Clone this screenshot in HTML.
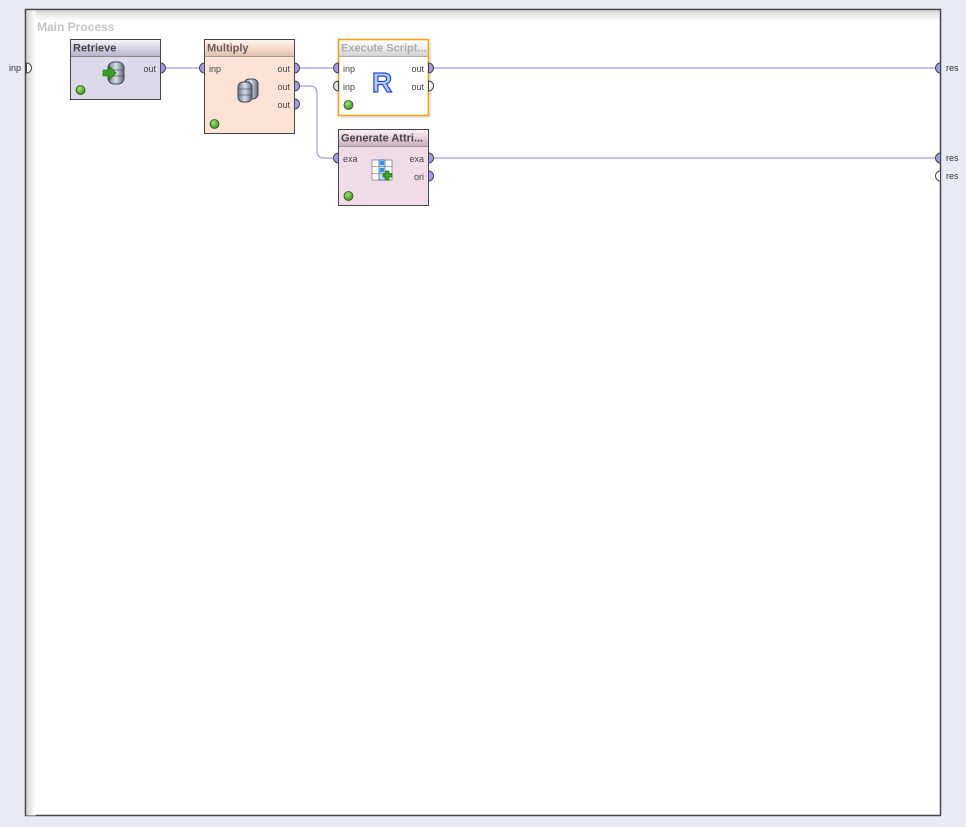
<!DOCTYPE html>
<html><head><meta charset="utf-8"><style>
html,body{margin:0;padding:0;background:#e8ebf3;}
svg{display:block;font-family:"Liberation Sans","DejaVu Sans",sans-serif;}
</style></head><body>
<svg width="966" height="827" viewBox="0 0 966 827" xmlns="http://www.w3.org/2000/svg">
<defs>
<linearGradient id="lsh" x1="0" x2="1" y1="0" y2="0"><stop offset="0" stop-color="#d4d4d4"/><stop offset="1" stop-color="#ffffff"/></linearGradient>
<linearGradient id="tsh" x1="0" x2="0" y1="0" y2="1"><stop offset="0" stop-color="#d8d8d8"/><stop offset="1" stop-color="#ffffff"/></linearGradient>
<linearGradient id="hRet" x1="0" x2="0" y1="0" y2="1"><stop offset="0" stop-color="#f4f4fa"/><stop offset="0.6" stop-color="#d0cde0"/><stop offset="1" stop-color="#b8b4cc"/></linearGradient>
<linearGradient id="hMul" x1="0" x2="0" y1="0" y2="1"><stop offset="0" stop-color="#fff4ee"/><stop offset="0.6" stop-color="#f4d8c8"/><stop offset="1" stop-color="#dcc0b0"/></linearGradient>
<linearGradient id="hExe" x1="0" x2="0" y1="0" y2="1"><stop offset="0" stop-color="#ffffff"/><stop offset="0.6" stop-color="#e8e8e8"/><stop offset="1" stop-color="#d0d0d0"/></linearGradient>
<linearGradient id="hGen" x1="0" x2="0" y1="0" y2="1"><stop offset="0" stop-color="#faf0f6"/><stop offset="0.6" stop-color="#e2cad8"/><stop offset="1" stop-color="#cab0c0"/></linearGradient>
<radialGradient id="led" cx="0.4" cy="0.35" r="0.7"><stop offset="0" stop-color="#a8e070"/><stop offset="1" stop-color="#3a8a20"/></radialGradient>
<linearGradient id="db" x1="0" x2="1"><stop offset="0" stop-color="#6a7888"/><stop offset="0.5" stop-color="#d8e0e8"/><stop offset="1" stop-color="#5a6878"/></linearGradient>
</defs>

<rect x="25.5" y="9.5" width="915" height="806" fill="#fff" stroke="#444" stroke-width="1.5"/>
<rect x="26.5" y="10.5" width="913" height="10" fill="url(#tsh)"/>
<rect x="26.5" y="10.5" width="9" height="805" fill="url(#lsh)"/>
<text x="37" y="31" font-size="12" font-weight="bold" fill="#c4c4c4">Main Process</text>

<g fill="none" stroke="#a49ce8" stroke-width="1.2">
<line x1="165" y1="68" x2="199" y2="68"/>
<line x1="299" y1="68" x2="333" y2="68"/>
<path d="M299 86 H310 Q317 86 317 93 V151 Q317 158 324 158 H333"/>
<line x1="433" y1="68" x2="936" y2="68"/>
<line x1="433" y1="158" x2="936" y2="158"/>
</g>

<rect x="70.5" y="39.5" width="90" height="60" fill="#dcd9e8" stroke="#444"/>
<rect x="71" y="40" width="89" height="16" fill="url(#hRet)"/>
<line x1="71" y1="56.5" x2="160" y2="56.5" stroke="#888"/>
<text x="73" y="51.5" font-size="11" font-weight="bold" fill="#444">Retrieve</text>
<text x="156" y="72" font-size="9" fill="#444" text-anchor="end">out</text>
<g><rect x="108" y="62" width="16" height="22" rx="6" fill="url(#db)" stroke="#445"/>
<path d="M108 70 h16 M108 76 h16" stroke="#556" stroke-width="0.8"/>
<path d="M103 70 h6 v-4 l7 7 l-7 7 v-4 h-6z" fill="#3aa020" stroke="#1a6010" stroke-width="0.6"/></g>
<circle cx="80.5" cy="90" r="4.5" fill="url(#led)" stroke="#2a5a18" stroke-width="0.8"/>

<rect x="204.5" y="39.5" width="90" height="94" fill="#fde2d6" stroke="#444"/>
<rect x="205" y="40" width="89" height="16" fill="url(#hMul)"/>
<line x1="205" y1="56.5" x2="294" y2="56.5" stroke="#998"/>
<text x="207" y="51.5" font-size="11" font-weight="bold" fill="#6a5a55">Multiply</text>
<text x="209" y="72" font-size="9" fill="#444">inp</text>
<text x="290" y="72" font-size="9" fill="#444" text-anchor="end">out</text>
<text x="290" y="90" font-size="9" fill="#444" text-anchor="end">out</text>
<text x="290" y="108" font-size="9" fill="#444" text-anchor="end">out</text>
<rect x="244" y="79" width="14" height="20" rx="5" fill="url(#db)" stroke="#445"/>
<rect x="238" y="82" width="14" height="20" rx="5" fill="url(#db)" stroke="#445"/>
<path d="M238 89 h14 M238 95 h14" stroke="#556" stroke-width="0.8"/>
<circle cx="214.5" cy="124" r="4.5" fill="url(#led)" stroke="#2a5a18" stroke-width="0.8"/>

<rect x="341" y="42" width="90" height="76" fill="#ddd" opacity="0.6"/>
<rect x="338.5" y="39.5" width="90" height="76" fill="#fff" stroke="#f5a020" stroke-width="1.6"/>
<rect x="339.5" y="40.5" width="88" height="15.5" fill="url(#hExe)"/>
<line x1="339" y1="56.5" x2="428" y2="56.5" stroke="#aaa"/>
<text x="341" y="51.5" font-size="11" font-weight="bold" fill="#aaa">Execute Script...</text>
<text x="343" y="72" font-size="9" fill="#444">inp</text>
<text x="343" y="90" font-size="9" fill="#444">inp</text>
<text x="424" y="72" font-size="9" fill="#444" text-anchor="end">out</text>
<text x="424" y="90" font-size="9" fill="#444" text-anchor="end">out</text>
<text x="372" y="92" font-size="28" font-weight="bold" fill="#b8c8f8" stroke="#2050d0" stroke-width="1.2">R</text>
<circle cx="348.5" cy="105" r="4.5" fill="url(#led)" stroke="#2a5a18" stroke-width="0.8"/>

<rect x="338.5" y="129.5" width="90" height="76" fill="#f0dce8" stroke="#444"/>
<rect x="339" y="130" width="89" height="16" fill="url(#hGen)"/>
<line x1="339" y1="146.5" x2="428" y2="146.5" stroke="#998"/>
<text x="341" y="141.5" font-size="11" font-weight="bold" fill="#444">Generate Attri...</text>
<text x="343" y="162" font-size="9" fill="#444">exa</text>
<text x="424" y="162" font-size="9" fill="#444" text-anchor="end">exa</text>
<text x="424" y="180" font-size="9" fill="#444" text-anchor="end">ori</text>
<g stroke="#777" stroke-width="0.7">
<rect x="372" y="160" width="20" height="20" fill="#fff"/>
<rect x="379" y="160" width="6" height="20" fill="#bfe0f8" stroke="#2060a0"/>
<rect x="380" y="161" width="4" height="4" fill="#3a90e0" stroke="none"/>
<rect x="380" y="168" width="4" height="4" fill="#3a90e0" stroke="none"/>
<line x1="372" y1="166.7" x2="392" y2="166.7"/><line x1="372" y1="173.3" x2="392" y2="173.3"/>
</g>
<path d="M386 171 h3 v3 h3 v3 h-3 v3 h-3 v-3 h-3 v-3 h3z" fill="#3ab020" stroke="#1a6010" stroke-width="0.7"/>
<circle cx="348.5" cy="196" r="4.5" fill="url(#led)" stroke="#2a5a18" stroke-width="0.8"/>

<g stroke="#444" stroke-width="1">
<path d="M160.5 63 a5 5 0 0 1 0 10z" fill="#a49ce8"/>
<path d="M204.5 63 a5 5 0 0 0 0 10z" fill="#a49ce8"/>
<path d="M294.5 63 a5 5 0 0 1 0 10z" fill="#a49ce8"/>
<path d="M294.5 81 a5 5 0 0 1 0 10z" fill="#a49ce8"/>
<path d="M294.5 99 a5 5 0 0 1 0 10z" fill="#a49ce8"/>
<path d="M338.5 63 a5 5 0 0 0 0 10z" fill="#a49ce8"/>
<path d="M338.5 81 a5 5 0 0 0 0 10z" fill="#e0e0e0"/>
<path d="M428.5 63 a5 5 0 0 1 0 10z" fill="#a49ce8"/>
<path d="M428.5 81 a5 5 0 0 1 0 10z" fill="#fff"/>
<path d="M338.5 153 a5 5 0 0 0 0 10z" fill="#a49ce8"/>
<path d="M428.5 153 a5 5 0 0 1 0 10z" fill="#a49ce8"/>
<path d="M428.5 171 a5 5 0 0 1 0 10z" fill="#a49ce8"/>
<path d="M26.5 63 a5 5 0 0 1 0 10z" fill="#fff"/>
<path d="M940.5 63 a5 5 0 0 0 0 10z" fill="#a49ce8"/>
<path d="M940.5 153 a5 5 0 0 0 0 10z" fill="#a49ce8"/>
<path d="M940.5 171 a5 5 0 0 0 0 10z" fill="#fff"/>
</g>
<g font-size="9" fill="#333">
<text x="9" y="71">inp</text>
<text x="946" y="71">res</text>
<text x="946" y="161">res</text>
<text x="946" y="179">res</text>
</g>
</svg>
</body></html>
